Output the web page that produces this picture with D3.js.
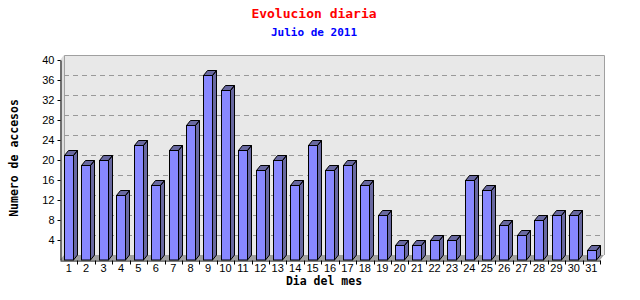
<!DOCTYPE html>
<html>
<head>
<meta charset="utf-8">
<script src="https://cdn.jsdelivr.net/npm/d3@7"></script>
<style>
  body { margin: 0; background: #fff; }
  svg { display: block; }
</style>
</head>
<body>
<div id="chart"></div>
<script>
// daily visits, July 2011
const days = d3.range(1, 32).map(String);
const visits = [21, 19, 20, 13, 23, 15, 22, 27, 37, 34, 22, 18, 20, 15, 23, 18, 19, 15, 9, 3, 3, 4, 4, 16, 14, 7, 5, 8, 9, 9, 2];
const yTicks = [4, 8, 12, 16, 20, 24, 28, 32, 36, 40];

const width = 640;
const height = 300;
const margin = { top: 60, right: 40, bottom: 40, left: 60 };
const depth = { x: 4, y: 5 };

const svg = d3
  .select('#chart')
  .append('svg')
  .attr('width', width)
  .attr('height', height);

const xScale = d3
  .scaleBand()
  .domain(days)
  .range([margin.left, width - margin.right]);

const yScale = d3
  .scaleLinear()
  .domain([0, 40])
  .range([height - margin.bottom, margin.top]);

const x0 = margin.left;
const x1 = width - margin.right;
const yb = yScale(0);
const yt = yScale(40);

// left side wall
svg
  .append('path')
  .attr('d', `M${x0},${yb}L${x0 + depth.x},${yb - depth.y}V${yt - depth.y}L${x0},${yt}Z`)
  .attr('fill', '#dedede');

// back wall
svg
  .append('rect')
  .attr('x', x0 + depth.x)
  .attr('y', yt - depth.y)
  .attr('width', x1 - x0)
  .attr('height', yb - yt)
  .attr('fill', '#e8e8e8');

svg
  .append('path')
  .attr('d', `M${x0 + depth.x + 0.5},${yb - depth.y}V${yt - depth.y + 0.5}H${x1 + depth.x + 0.5}V${yb - depth.y}`)
  .attr('fill', 'none')
  .attr('stroke', '#a0a0a0');

// grid lines on back wall
svg
  .append('g')
  .selectAll('line')
  .data(yTicks.filter((d) => d < 40))
  .enter()
  .append('line')
  .attr('x1', x0 + depth.x)
  .attr('x2', x1 + depth.x)
  .attr('y1', (d) => Math.round(yScale(d) - depth.y) + 0.5)
  .attr('y2', (d) => Math.round(yScale(d) - depth.y) + 0.5)
  .attr('stroke', '#999')
  .attr('stroke-dasharray', '5,4');

// floor
svg
  .append('path')
  .attr('d', `M${x0},${yb}L${x0 + depth.x},${yb - depth.y}H${x1 + depth.x}L${x1},${yb}Z`)
  .attr('fill', '#a0a0a0');

// bars
const bw = xScale.bandwidth();
const barW = Math.round(bw * 0.54);
const bars = svg
  .append('g')
  .selectAll('g')
  .data(visits)
  .enter()
  .append('g')
  .attr('transform', (d, i) => `translate(${Math.round(xScale(days[i]) + bw * 0.23) + 0.5},0)`);

bars
  .append('path')
  .attr('d', (d) => {
    const y = Math.round(yScale(d)) + 0.5;
    return `M${barW},${y}L${barW + depth.x},${y - depth.y}V${yb - depth.y}L${barW},${yb}Z` +
      `M0,${y}L${depth.x},${y - depth.y}H${barW + depth.x}L${barW},${y}Z`;
  })
  .attr('fill', '#6868a0')
  .attr('stroke', '#000');

bars
  .append('rect')
  .attr('x', 0)
  .attr('y', (d) => Math.round(yScale(d)) + 0.5)
  .attr('width', barW)
  .attr('height', (d) => yb - Math.round(yScale(d)) - 0.5)
  .attr('fill', '#8888ff')
  .attr('stroke', '#000');

// axes
const yAxis = svg
  .append('g')
  .attr('transform', `translate(${x0 + 0.5},0)`)
  .call(d3.axisLeft(yScale).tickValues(yTicks).tickSize(3).tickSizeOuter(0));

const xAxis = svg
  .append('g')
  .attr('transform', `translate(0,${yb + 0.5})`)
  .call(d3.axisBottom(xScale).tickSize(0).tickPadding(4));

// ticks between days
xAxis
  .selectAll('.sep')
  .data(days)
  .enter()
  .append('line')
  .attr('class', 'sep')
  .attr('x1', (d) => Math.round(xScale(d) + bw) + 0.5)
  .attr('x2', (d) => Math.round(xScale(d) + bw) + 0.5)
  .attr('y1', 0)
  .attr('y2', 4)
  .attr('stroke', '#000');

[yAxis, xAxis].forEach((g) => {
  g.select('.domain').attr('stroke', '#000');
  g.selectAll('text')
    .style('font-family', '"Liberation Sans", Arial, sans-serif')
    .style('font-size', '11px')
    .attr('fill', '#000');
});

// titles
svg
  .append('text')
  .attr('x', 314)
  .attr('y', 18)
  .attr('text-anchor', 'middle')
  .style('font-family', '"DejaVu Sans Mono", monospace')
  .style('font-size', '13px')
  .style('font-weight', 'bold')
  .attr('fill', '#ff0000')
  .text('Evolucion diaria');

svg
  .append('text')
  .attr('x', 314)
  .attr('y', 36)
  .attr('text-anchor', 'middle')
  .style('font-family', '"DejaVu Sans Mono", monospace')
  .style('font-size', '11px')
  .style('font-weight', 'bold')
  .attr('fill', '#0000ff')
  .text('Julio de 2011');

svg
  .append('text')
  .attr('x', 324)
  .attr('y', 285)
  .attr('text-anchor', 'middle')
  .style('font-family', '"DejaVu Sans Mono", monospace')
  .style('font-size', '11.5px')
  .style('font-weight', 'bold')
  .text('Dia del mes');

svg
  .append('text')
  .attr('transform', 'translate(18,158) rotate(-90)')
  .attr('text-anchor', 'middle')
  .style('font-family', '"DejaVu Sans Mono", monospace')
  .style('font-size', '11.5px')
  .style('font-weight', 'bold')
  .text('Numero de accesos');
</script>
</body>
</html>
